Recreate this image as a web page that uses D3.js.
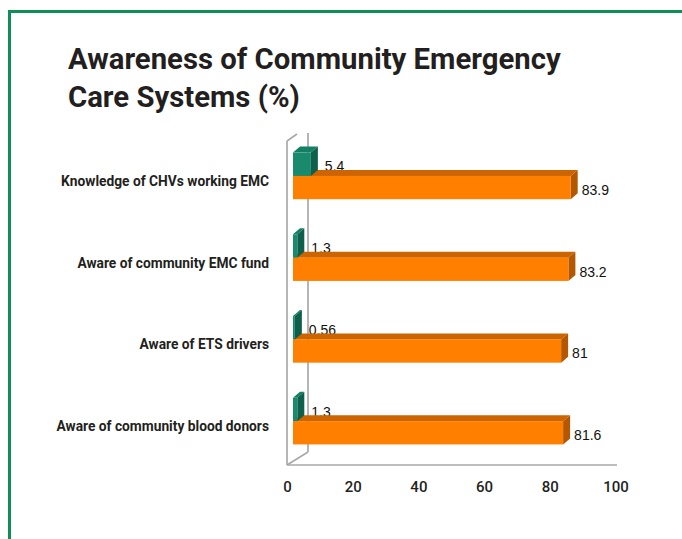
<!DOCTYPE html>
<html>
<head>
<meta charset="utf-8">
<script src="https://cdn.jsdelivr.net/npm/d3@7/dist/d3.min.js"></script>
<style>
  html, body { margin: 0; padding: 0; background: #fff; }
  svg { display: block; }
</style>
</head>
<body>
<svg id="chart" width="682" height="539"></svg>
<script>
const titleLines = ["Awareness of Community Emergency", "Care Systems (%)"];
const categories = [
  "Knowledge of CHVs working EMC",
  "Aware of community EMC fund",
  "Aware of ETS drivers",
  "Aware of community blood donors"
];
const greenValues = [5.4, 1.3, 0.56, 1.3];
const orangeValues = [83.9, 83.2, 81, 81.6];
const xTicks = [0, 20, 40, 60, 80, 100];

const svg = d3.select("#chart");
const W = 682, H = 539;

// frame
svg.append("rect")
  .attr("x", 9.5).attr("y", 11.5)
  .attr("width", W + 20).attr("height", H + 20)
  .attr("fill", "none")
  .attr("stroke", "#0e8f58")
  .attr("stroke-width", 3);

// title
const titleG = svg.append("g");
const titleTexts = titleG.selectAll("text").data(titleLines).join("text")
  .attr("font-family", "Roboto, 'DejaVu Sans', sans-serif")
  .attr("font-weight", 700)
  .attr("font-size", 30)
  .attr("fill", "#231f20")
  .text(d => d);
const t1w = titleTexts.nodes()[0].getComputedTextLength();
const tf = 493 / t1w;
titleTexts.attr("transform", (d, i) => `translate(68,${i === 0 ? 69 : 107}) scale(${tf},1)`);

// scales
const xAxisScale = d3.scaleLinear().domain([0, 100]).range([287, 615.5]);
const xBar = d3.scaleLinear().domain([0, 100]).range([293, 624]);
const y = d3.scaleBand().domain(categories).range([135, 462]);
const barH = 23.3;
const dx = 7, dy = -6;
const gray = "#a9a9a9";

// walls
const wall = svg.append("g").attr("stroke", gray).attr("stroke-width", 1.7).attr("fill", "none");
wall.append("line").attr("x1", 287).attr("y1", 141).attr("x2", 287).attr("y2", 465);
wall.append("line").attr("x1", 287).attr("y1", 141).attr("x2", 297).attr("y2", 134);
wall.append("line").attr("x1", 308).attr("y1", 133).attr("x2", 308).attr("y2", 452);
wall.append("line").attr("x1", 287).attr("y1", 465).attr("x2", 308).attr("y2", 452);

// axis
const axis = d3.axisBottom(xAxisScale).tickValues(xTicks).tickSize(0).tickSizeOuter(0).tickPadding(16.5);
const axG = svg.append("g").attr("transform", "translate(0,465)").call(axis);
axG.select(".domain").attr("stroke", gray).attr("stroke-width", 1.7)
  .attr("d", `M287,0H617`);
axG.selectAll("text")
  .attr("font-family", "Roboto, sans-serif")
  .attr("font-weight", 500)
  .attr("font-size", 15)
  .attr("fill", "#231f20");

// category labels
const catTexts = svg.append("g").selectAll("text").data(categories).join("text")
  .attr("font-family", "Roboto, 'DejaVu Sans', sans-serif")
  .attr("font-weight", 700)
  .attr("font-size", 15.5)
  .attr("fill", "#231f20")
  .attr("text-anchor", "end")
  .text(d => d);
const c0w = catTexts.nodes()[0].getComputedTextLength();
const cf = 208 / c0w;
catTexts.attr("transform", d => `translate(269,${y(d) + y.bandwidth() / 2 + 10}) scale(${cf},1)`);

function box(g, x0, x1, top, h, cFront, cTop, cSide) {
  g.append("polygon")
    .attr("points", [[x0, top], [x0 + dx, top + dy], [x1 + dx, top + dy], [x1, top]].join(" "))
    .attr("fill", cTop);
  g.append("polygon")
    .attr("points", [[x1, top], [x1 + dx, top + dy], [x1 + dx, top + dy + h], [x1, top + h]].join(" "))
    .attr("fill", cSide);
  g.append("rect")
    .attr("x", x0).attr("y", top).attr("width", x1 - x0).attr("height", h)
    .attr("fill", cFront);
}

const bars = svg.append("g");
categories.forEach((cat, i) => {
  const c = y(cat) + y.bandwidth() / 2;
  const g = bars.append("g");
  // green value label (behind orange bar)
  g.append("text")
    .attr("x", xBar(greenValues[i]) + 14)
    .attr("y", c - 4.5)
    .attr("font-family", "'Liberation Sans', Arial, sans-serif")
    .attr("font-size", 14)
    .attr("fill", "#111")
    .text(greenValues[i]);
  // orange bar
  box(g, xBar(0), xBar(orangeValues[i]), c, barH, "#ff7f00", "#cc6400", "#b35800");
  // green bar
  box(g, xBar(0), xBar(greenValues[i]), c - barH, barH, "#1a8a6d", "#138064", "#0e5f4b");
  // orange value label
  g.append("text")
    .attr("x", xBar(orangeValues[i]) + 11)
    .attr("y", c + 19)
    .attr("font-family", "'Liberation Sans', Arial, sans-serif")
    .attr("font-size", 14)
    .attr("fill", "#111")
    .text(orangeValues[i]);
});
</script>
</body>
</html>
